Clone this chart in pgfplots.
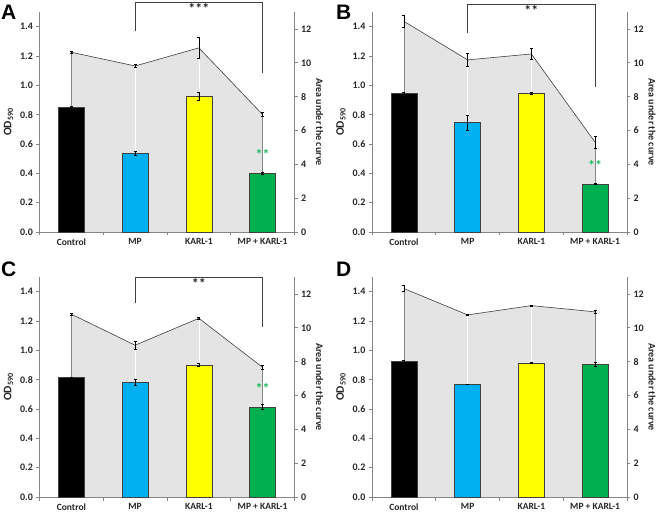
\documentclass[border=0pt]{standalone}
\usepackage{pgfplots}
\pgfplotsset{compat=1.18}
\usepackage{fontspec}
\setmainfont{Carlito}
\newfontfamily\panelfont{Liberation Sans}
\definecolor{areagray}{HTML}{E4E4E4}
\definecolor{axisgray}{HTML}{868686}
\definecolor{linegray}{HTML}{404040}
\definecolor{mpblue}{HTML}{00B0F0}
\definecolor{karlyellow}{HTML}{FFFF00}
\definecolor{mkgreen}{HTML}{00B050}
\definecolor{stargreen}{HTML}{1DB960}

\pgfplotsset{
 base/.style={scale only axis, width=255pt, height=220pt, xmin=-0.5, xmax=3.5, clip=false,
   /pgf/number format/assume math mode=true,
   tick label style={font=\fontsize{10}{11}\selectfont\bfseries, color=black!85},
   axis line style={axisgray, line width=0.8pt},
   tick style={axisgray, line width=0.6pt},
   major tick length=3pt, minor tick length=3.5pt, tick align=outside,
 },
 rightax/.style={base, ymin=0, ymax=13, axis y line*=right, axis x line=none,
   ytick={0,2,4,6,8,10,12},
   ylabel={Area under the curve},
   every axis y label/.style={at={(rel axis cs:1,0.5)}, xshift=25pt, rotate=-90, anchor=center,
      font=\fontsize{10}{11}\selectfont\bfseries, color=black!85},
 },
 leftax/.style={base, ymin=0, ymax=1.5, axis y line*=left, axis x line*=bottom,
   ytick={0,0.2,0.4,0.6,0.8,1.0,1.2,1.4},
   yticklabel style={/pgf/number format/.cd, fixed, fixed zerofill, precision=1},
   xtick={0,1,2,3}, xticklabels={Control,MP,KARL-1,MP + KARL-1},
   xticklabel style={font=\fontsize{9.5}{10}\selectfont\bfseries},
   major x tick style={draw=none},
   minor xtick={-0.5,0.5,1.5,2.5,3.5},
   ylabel={OD\textsubscript{590}},
   every axis y label/.style={at={(rel axis cs:0,0.5)}, xshift=-31pt, rotate=90, anchor=center,
      font=\fontsize{11.5}{12}\selectfont\bfseries, color=black!85},
 },
 barst/.style={ybar, bar shift=0pt, bar width=0.41, draw=black!75, line width=0.5pt},
 errb/.style={error bars/.cd, y dir=both, y explicit,
   error bar style={black, line width=0.5pt},
   error mark options={rotate=90, black, mark size=1.6pt, line width=0.5pt}},
 aucline/.style={linegray, line width=0.6pt},
 brk/.style={linegray, line width=0.6pt},
}
\newcommand{\stars}[1]{\fontsize{14}{14}\selectfont\bfseries #1}

\begin{document}
\begin{tikzpicture}
\path[use as bounding box] (0pt,0pt) rectangle (660pt,514pt);

% ================= Panel A =================
\begin{axis}[rightax, at={(39.5pt,282pt)}, anchor=south west]
\addplot[fill=areagray, draw=none] coordinates {(0,10.62) (1,9.81) (2,10.88) (3,6.94)} \closedcycle;
\addplot[ycomb, white, line width=0.7pt] coordinates {(1,9.81) (2,10.88)};
\addplot[ycomb, axisgray, line width=0.6pt] coordinates {(0,10.62) (3,6.94)};
\addplot[aucline, errb] coordinates {(0,10.62) +- (0,0.05) (1,9.81) +- (0,0.08) (2,10.88) +- (0,0.64) (3,6.94) +- (0,0.12)};
\end{axis}
\begin{axis}[leftax, at={(39.5pt,282pt)}, anchor=south west]
\addplot[barst, fill=black, errb] coordinates {(0,0.851) +- (0,0.003)};
\addplot[barst, fill=mpblue, errb] coordinates {(1,0.535) +- (0,0.015)};
\addplot[barst, fill=karlyellow, errb] coordinates {(2,0.926) +- (0,0.025)};
\addplot[barst, fill=mkgreen, errb] coordinates {(3,0.400) +- (0,0.008)};
\addplot[brk] coordinates {(1,1.370) (1,1.564) (3,1.564) (3,1.086)};
\node[anchor=north, inner sep=0.5pt, text=black!85] at (axis cs:2,1.562) {\stars{***}};
\node[text=stargreen] at (axis cs:3,0.53) {\stars{**}};
\end{axis}

% ================= Panel B =================
\begin{axis}[rightax, at={(372pt,282pt)}, anchor=south west]
\addplot[fill=areagray, draw=none] coordinates {(0,12.45) (1,10.17) (2,10.52) (3,5.30)} \closedcycle;
\addplot[ycomb, white, line width=0.7pt] coordinates {(1,10.17) (2,10.52)};
\addplot[ycomb, axisgray, line width=0.6pt] coordinates {(0,12.45) (3,5.30)};
\addplot[aucline, errb] coordinates {(0,12.45) +- (0,0.34) (1,10.17) +- (0,0.40) (2,10.52) +- (0,0.33) (3,5.30) +- (0,0.38)};
\end{axis}
\begin{axis}[leftax, at={(372pt,282pt)}, anchor=south west]
\addplot[barst, fill=black, errb] coordinates {(0,0.947) +- (0,0.005)};
\addplot[barst, fill=mpblue, errb] coordinates {(1,0.746) +- (0,0.050)};
\addplot[barst, fill=karlyellow, errb] coordinates {(2,0.945) +- (0,0.008)};
\addplot[barst, fill=mkgreen, errb] coordinates {(3,0.328) +- (0,0.003)};
\addplot[brk] coordinates {(1,1.359) (1,1.553) (3,1.553) (3,0.990)};
\node[anchor=north, inner sep=0.5pt, text=black!85] at (axis cs:2,1.551) {\stars{**}};
\node[text=stargreen] at (axis cs:3,0.455) {\stars{**}};
\end{axis}

% ================= Panel C =================
\begin{axis}[rightax, at={(39.5pt,17pt)}, anchor=south west]
\addplot[fill=areagray, draw=none] coordinates {(0,10.80) (1,8.97) (2,10.56) (3,7.66)} \closedcycle;
\addplot[ycomb, white, line width=0.7pt] coordinates {(1,8.97) (2,10.56)};
\addplot[ycomb, axisgray, line width=0.6pt] coordinates {(0,10.80) (3,7.66)};
\addplot[aucline, errb] coordinates {(0,10.80) +- (0,0.04) (1,8.97) +- (0,0.22) (2,10.56) +- (0,0.07) (3,7.66) +- (0,0.10)};
\end{axis}
\begin{axis}[leftax, at={(39.5pt,17pt)}, anchor=south west]
\addplot[barst, fill=black, errb] coordinates {(0,0.815) +- (0,0.003)};
\addplot[barst, fill=mpblue, errb] coordinates {(1,0.781) +- (0,0.020)};
\addplot[barst, fill=karlyellow, errb] coordinates {(2,0.899) +- (0,0.010)};
\addplot[barst, fill=mkgreen, errb] coordinates {(3,0.615) +- (0,0.020)};
\addplot[brk] coordinates {(1,1.325) (1,1.498) (3,1.498) (3,1.161)};
\node[anchor=north, inner sep=0.5pt, text=black!85] at (axis cs:2,1.496) {\stars{**}};
\node[text=stargreen] at (axis cs:3,0.74) {\stars{**}};
\end{axis}

% ================= Panel D =================
\begin{axis}[rightax, at={(372pt,17pt)}, anchor=south west]
\addplot[fill=areagray, draw=none] coordinates {(0,12.32) (1,10.76) (2,11.31) (3,10.94)} \closedcycle;
\addplot[ycomb, white, line width=0.7pt] coordinates {(1,10.76) (2,11.31)};
\addplot[ycomb, axisgray, line width=0.6pt] coordinates {(0,12.32) (3,10.94)};
\addplot[aucline, errb] coordinates {(0,12.32) +- (0,0.18) (1,10.76) +- (0,0.04) (2,11.31) +- (0,0.03) (3,10.94) +- (0,0.08)};
\end{axis}
\begin{axis}[leftax, at={(372pt,17pt)}, anchor=south west]
\addplot[barst, fill=black, errb] coordinates {(0,0.925) +- (0,0.005)};
\addplot[barst, fill=mpblue, errb] coordinates {(1,0.768) +- (0,0.002)};
\addplot[barst, fill=karlyellow, errb] coordinates {(2,0.914) +- (0,0.005)};
\addplot[barst, fill=mkgreen, errb] coordinates {(3,0.907) +- (0,0.015)};
\end{axis}

% panel letters
\node[anchor=base west, inner sep=0pt, font=\panelfont\bfseries\fontsize{21}{21}\selectfont] at (1pt,494pt) {A};
\node[anchor=base west, inner sep=0pt, font=\panelfont\bfseries\fontsize{21}{21}\selectfont] at (336pt,494pt) {B};
\node[anchor=base west, inner sep=0pt, font=\panelfont\bfseries\fontsize{21}{21}\selectfont] at (1pt,237pt) {C};
\node[anchor=base west, inner sep=0pt, font=\panelfont\bfseries\fontsize{21}{21}\selectfont] at (336pt,237pt) {D};
\end{tikzpicture}
\end{document}
